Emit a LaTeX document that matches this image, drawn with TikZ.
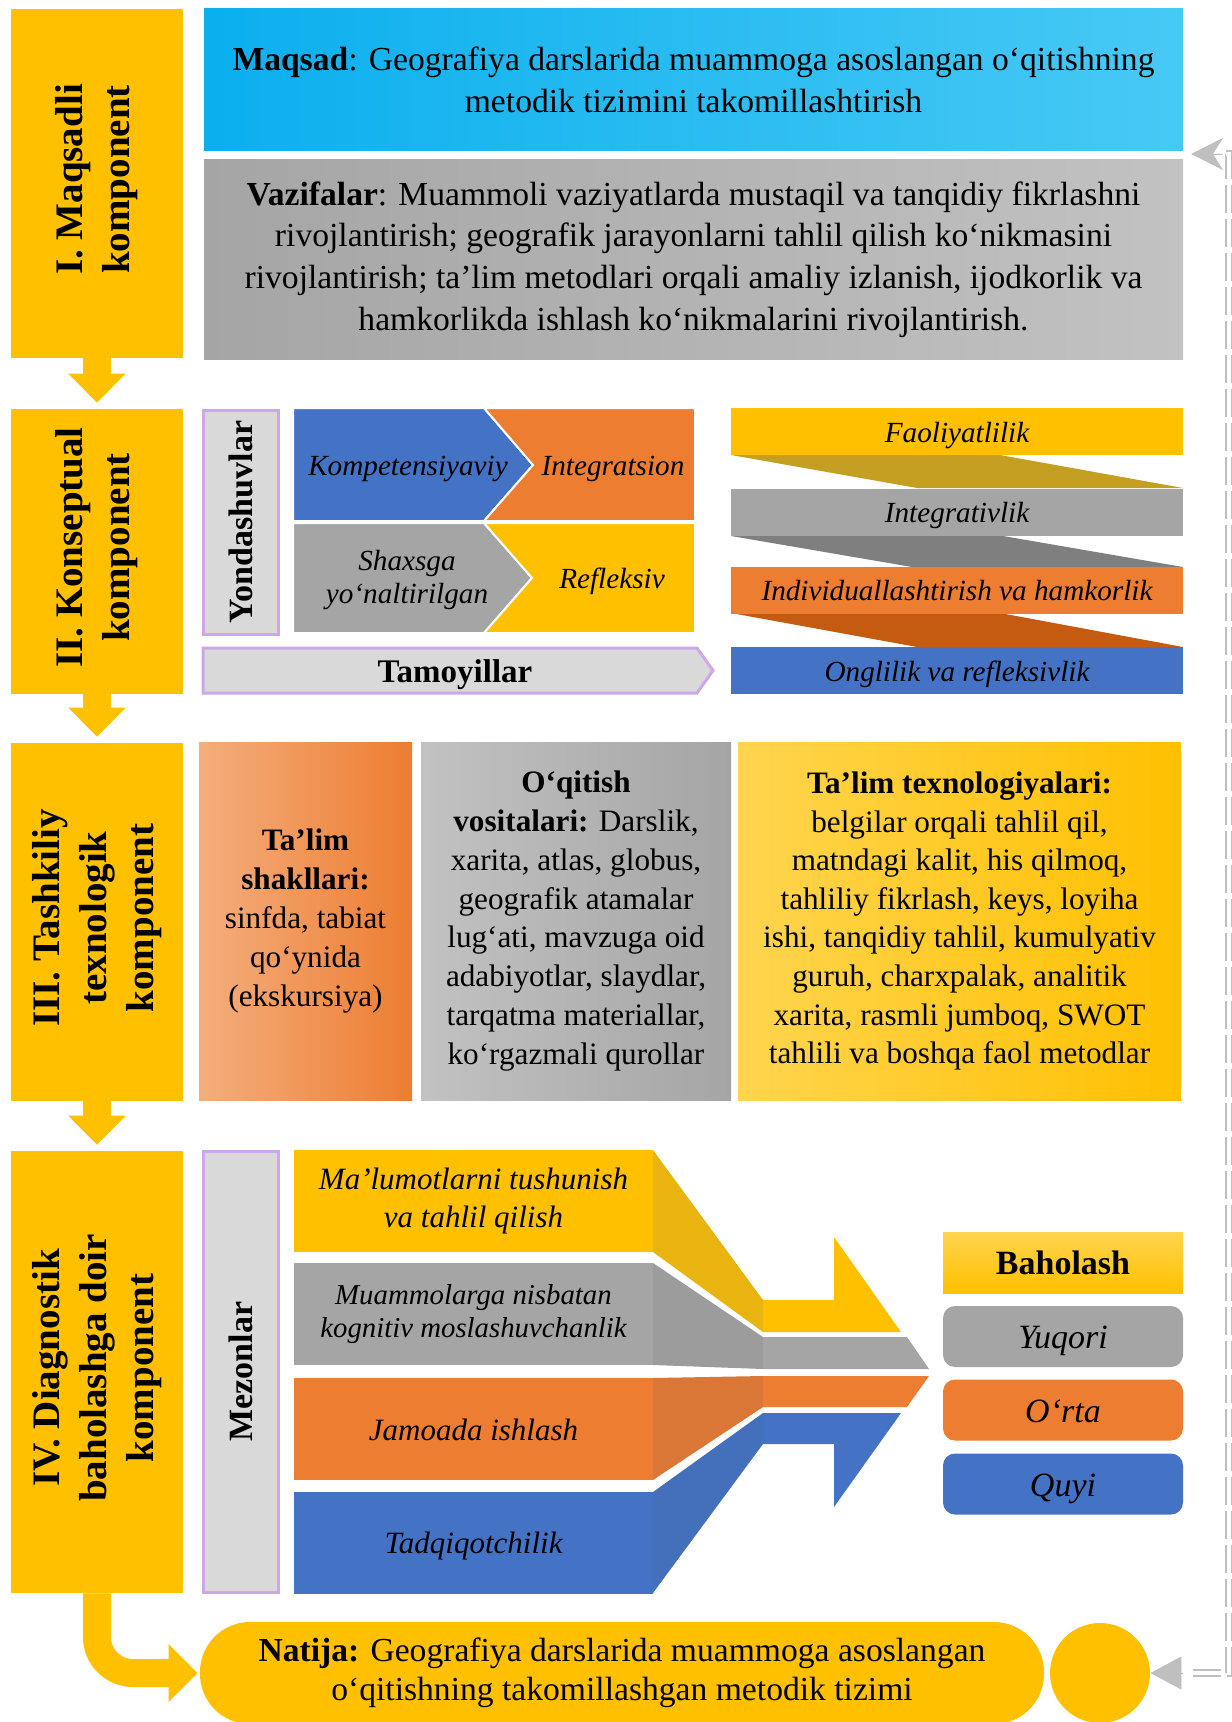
\documentclass[tikz,border=0pt]{standalone}
\usepackage{fontspec}
\setmainfont{Liberation Serif}
\usepackage{tikz}
\usetikzlibrary{positioning, arrows.meta}

\definecolor{compyellow}{HTML}{FFC000}
\definecolor{lightyellow}{HTML}{FFD54F}
\definecolor{funyellow}{HTML}{E9B40F}
\definecolor{compblue}{HTML}{4472C4}
\definecolor{funblue}{HTML}{446FBA}
\definecolor{comporange}{HTML}{ED7D31}
\definecolor{lightorange}{HTML}{F4AE7D}
\definecolor{funorange}{HTML}{DA7736}
\definecolor{compgray}{HTML}{A5A5A5}
\definecolor{lightgraybox}{HTML}{C2C2C2}
\definecolor{fungray}{HTML}{9C9C9C}
\definecolor{sidegray}{HTML}{D9D9D9}
\definecolor{lavender}{HTML}{CDA8E6}
\definecolor{cyanleft}{HTML}{0BAFEE}
\definecolor{cyanright}{HTML}{48C9F5}
\definecolor{bandgold}{HTML}{C49F22}
\definecolor{banddark}{HTML}{7F7F7F}
\definecolor{bandrust}{HTML}{C55A11}
\definecolor{fbgray}{HTML}{BFBFBF}

\tikzset{
  panel/.style={inner sep=0pt, align=center, font=\fontsize{16.8}{20.8}\selectfont},
  complabel/.style={rotate=90, align=center, xshift=2pt, font=\bfseries\fontsize{19.5}{23.5}\selectfont},
  sidebar/.style={rotate=90, fill=sidegray, draw=lavender, line width=1.5pt, inner sep=0pt,
    font=\bfseries\fontsize{17}{20}\selectfont},
  approach/.style={align=center, font=\itshape\fontsize{14.6}{16.5}\selectfont},
  oneline/.style={text height=13.6pt, text depth=2.9pt},
  criterion/.style={inner sep=0pt, align=center, minimum width=179.5pt, minimum height=51pt,
    font=\itshape\fontsize{15.5}{19}\selectfont},
  level/.style={inner sep=0pt, minimum width=120pt, minimum height=30.5pt, rounded corners=6pt,
    text height=15.8pt, text depth=3.4pt, font=\itshape\fontsize{17}{19}\selectfont},
  bigarrow/.style={draw=compyellow, line width=14pt, -{Triangle[length=14.5pt,width=28pt]}, shorten >=3pt},
  fbline/.style={draw=fbgray, line width=0.9pt, double=white, double distance=2.4pt, dash pattern=on 14pt off 3pt},
  fbhead/.style={draw=fbgray, fill=fbgray, line width=0.4pt}
}

\begin{document}
\begin{tikzpicture}[x=0.5pt, y=-0.5pt]
  \useasboundingbox (0,0) rectangle (1231,1722);

  % Component boxes in the left column
  \foreach \n/\y/\h in {I/183.5/174.5, II/551.5/142.5, III/922/179, IV/1372/221}
    \node[fill=compyellow, minimum width=86pt, minimum height=\h pt, inner sep=0pt] (box\n) at (97,\y) {};

  \node[complabel] (labI) at (boxI) {I. Maqsadli\\komponent};
  \node[complabel] (labII) at (boxII) {II. Konseptual\\komponent};
  \node[complabel] (labIII) at (boxIII) {III. Tashkiliy\\texnologik\\komponent};
  \node[complabel] (labIV) at (boxIV) {IV. Diagnostik\\baholashga doir\\komponent};

  % Arrows between components
  \draw[bigarrow] (boxI) -- (boxII);
  \draw[bigarrow] (boxII) -- (boxIII);
  \draw[bigarrow] (boxIII) -- (boxIV);

  % I. Goal and tasks
  \node[panel, left color=cyanleft, right color=cyanright, minimum width=489.5pt, minimum height=71pt] (maqsad) at (693.5,80)
    {\textbf{Maqsad}: Geografiya darslarida muammoga asoslangan o‘qitishning\\metodik tizimini takomillashtirish};
  \node[panel, left color=compgray, right color=lightgraybox, minimum width=489.5pt, minimum height=99.5pt] (vazifa) at (693.5,259.5)
    {\textbf{Vazifalar}: Muammoli vaziyatlarda mustaqil va tanqidiy fikrlashni\\rivojlantirish; geografik jarayonlarni tahlil qilish ko‘nikmasini\\rivojlantirish; ta’lim metodlari orqali amaliy izlanish, ijodkorlik va\\hamkorlikda ishlash ko‘nikmalarini rivojlantirish.};

  % II. Approaches
  \node[sidebar, minimum width=112pt, minimum height=37.5pt] (yond) at (240.5,522) {Yondashuvlar};
  \filldraw[fill=compblue, draw=white, line width=1pt] (293,408) -- (484,408) -- (533,465) -- (484,521) -- (293,521) -- cycle;
  \filldraw[fill=comporange, draw=white, line width=1pt] (484,408) -- (695,408) -- (695,521) -- (484,521) -- (533,465) -- cycle;
  \filldraw[fill=compgray, draw=white, line width=1pt] (293,523) -- (484,523) -- (532,578) -- (484,633) -- (293,633) -- cycle;
  \filldraw[fill=compyellow, draw=white, line width=1pt] (484,523) -- (695,523) -- (695,633) -- (484,633) -- (532,578) -- cycle;
  \node[approach, oneline] (kompet) at (408,465) {Kompetensiyaviy};
  \node[approach, oneline] (integr) at (613,465) {Integratsion};
  \node[approach] (shaxs) at (407,580) {Shaxsga\\yo‘naltirilgan};
  \node[approach, oneline] (reflek) at (612,578) {Refleksiv};

  % Principles
  \filldraw[fill=sidegray, draw=lavender, line width=1.5pt] (203,648) -- (697,648) -- (713,670.5) -- (697,693) -- (203,693) -- cycle;
  \node[text height=15.3pt, text depth=3.3pt, font=\bfseries\fontsize{16.5}{19}\selectfont] (tamoy) at (455,670.5) {Tamoyillar};

  \foreach \ya/\yb/\xa/\xb/\c in {455/488/1000/917/bandgold, 536/567/1003/912/banddark, 613/647/1000/917/bandrust}
    \fill[\c] (731,\ya) -- (\xa,\ya) -- (1183,\yb) -- (\xb,\yb) -- cycle;
  \foreach \i/\t/\y/\c in {1/Faoliyatlilik/431.5/compyellow, 2/Integrativlik/512/compgray,
      3/Individuallashtirish va hamkorlik/590/comporange, 4/Onglilik va refleksivlik/670.5/compblue}
    \node[fill=\c, minimum width=226pt, minimum height=23.5pt, inner sep=0pt, oneline,
      font=\itshape\fontsize{14.6}{16.5}\selectfont] (tam\i) at (957,\y) {\t};

  % III. Forms, tools and technologies
  \node[panel, left color=lightorange, right color=comporange, minimum width=106.5pt, minimum height=179pt,
    font=\fontsize{15.6}{19.6}\selectfont] (shakl) at (305.5,921)
    {\textbf{Ta’lim}\\\textbf{shakllari:}\\sinfda, tabiat\\qo‘ynida\\(ekskursiya)};
  \node[panel, left color=lightgraybox, right color=compgray, minimum width=155pt, minimum height=179pt,
    font=\fontsize{15.6}{19.4}\selectfont] (vosita) at (576,921)
    {\textbf{O‘qitish}\\\textbf{vositalari:} Darslik,\\xarita, atlas, globus,\\geografik atamalar\\lug‘ati, mavzuga oid\\adabiyotlar, slaydlar,\\tarqatma materiallar,\\ko‘rgazmali qurollar};
  \node[panel, left color=lightyellow, right color=compyellow, minimum width=221.5pt, minimum height=179pt,
    font=\fontsize{15.6}{19.3}\selectfont] (texno) at (959.5,921)
    {\textbf{Ta’lim texnologiyalari:}\\belgilar orqali tahlil qil,\\matndagi kalit, his qilmoq,\\tahliliy fikrlash, keys, loyiha\\ishi, tanqidiy tahlil, kumulyativ\\guruh, charxpalak, analitik\\xarita, rasmli jumboq, SWOT\\tahlili va boshqa faol metodlar};

  % IV. Criteria
  \node[sidebar, minimum width=220.5pt, minimum height=37.5pt] (mezon) at (240.5,1371.5) {Mezonlar};
  \node[criterion, fill=compyellow] (mez1) at (473.5,1201) {Ma’lumotlarni tushunish\\va tahlil qilish};
  \node[criterion, fill=compgray, font=\itshape\fontsize{14.4}{16.5}\selectfont] (mez2) at (473.5,1314) {Muammolarga nisbatan\\kognitiv moslashuvchanlik};
  \node[criterion, fill=comporange, text height=14.4pt, text depth=3.1pt] (mez3) at (473.5,1429) {Jamoada ishlash};
  \node[criterion, fill=compblue, text height=14.4pt, text depth=3.1pt] (mez4) at (473.5,1542.5) {Tadqiqotchilik};

  % Funnel towards the levels
  \fill[funyellow] (653,1150) -- (763,1300) -- (763,1332) -- (653,1252) -- cycle;
  \fill[compyellow] (763,1300) -- (834,1300) -- (834,1237) -- (901,1332) -- (763,1332) -- cycle;
  \fill[fungray] (653,1263) -- (763,1337) -- (763,1369) -- (653,1365) -- cycle;
  \fill[compgray] (763,1337) -- (907,1337) -- (929,1369) -- (763,1369) -- cycle;
  \fill[funorange] (653,1378) -- (763,1376) -- (763,1407) -- (653,1480) -- cycle;
  \fill[comporange] (763,1376) -- (929,1376) -- (907,1407) -- (763,1407) -- cycle;
  \fill[funblue] (653,1492) -- (763,1413) -- (763,1444) -- (653,1593) -- cycle;
  \fill[compblue] (763,1413) -- (901,1413) -- (834,1507) -- (834,1444) -- (763,1444) -- cycle;

  % Levels
  \node[level, rounded corners=0pt, top color=lightyellow, bottom color=compyellow,
    font=\bfseries\fontsize{17}{19}\selectfont] (bahol) at (1063,1262.5) {Baholash};
  \foreach \n/\t/\y/\c in {yuqori/Yuqori/1336.5/compgray, orta/O‘rta/1410/comporange, quyi/Quyi/1484/compblue}
    \node[level, fill=\c] (\n) at (1063,\y) {\t};

  % Result
  \node[panel, fill=compyellow, rounded corners=25pt, minimum width=422pt, minimum height=51pt,
    font=\fontsize{16.8}{19.5}\selectfont] (natija) at (622,1673)
    {\textbf{Natija:} Geografiya darslarida muammoga asoslangan\\o‘qitishning takomillashgan metodik tizimi};
  \node[circle, fill=compyellow, minimum size=50pt, inner sep=0pt] (doira) at (1100,1673) {};
  \draw[bigarrow, shorten >=1pt, rounded corners=18pt] (boxIV.south) |- (natija.west);

  % Feedback line
  \coordinate (fbbot) at (1229,1673);
  \coordinate (fbtop) at (1229,154);
  \coordinate (fbtip) at (1191,154);
  \draw[fbline] ([xshift=21.5pt]doira.east) -- (fbbot) -- (fbtop) -- ([xshift=16pt]fbtip);
  \draw[fbhead, -{Triangle[length=15.5pt,width=16.5pt]}] ([xshift=16.5pt]doira.east) -- (doira.east);
  \draw[fbhead, -{Stealth[length=16pt,width=16pt,inset=5pt]}] ([xshift=16pt]fbtip) -- (fbtip);
\end{tikzpicture}
\end{document}
